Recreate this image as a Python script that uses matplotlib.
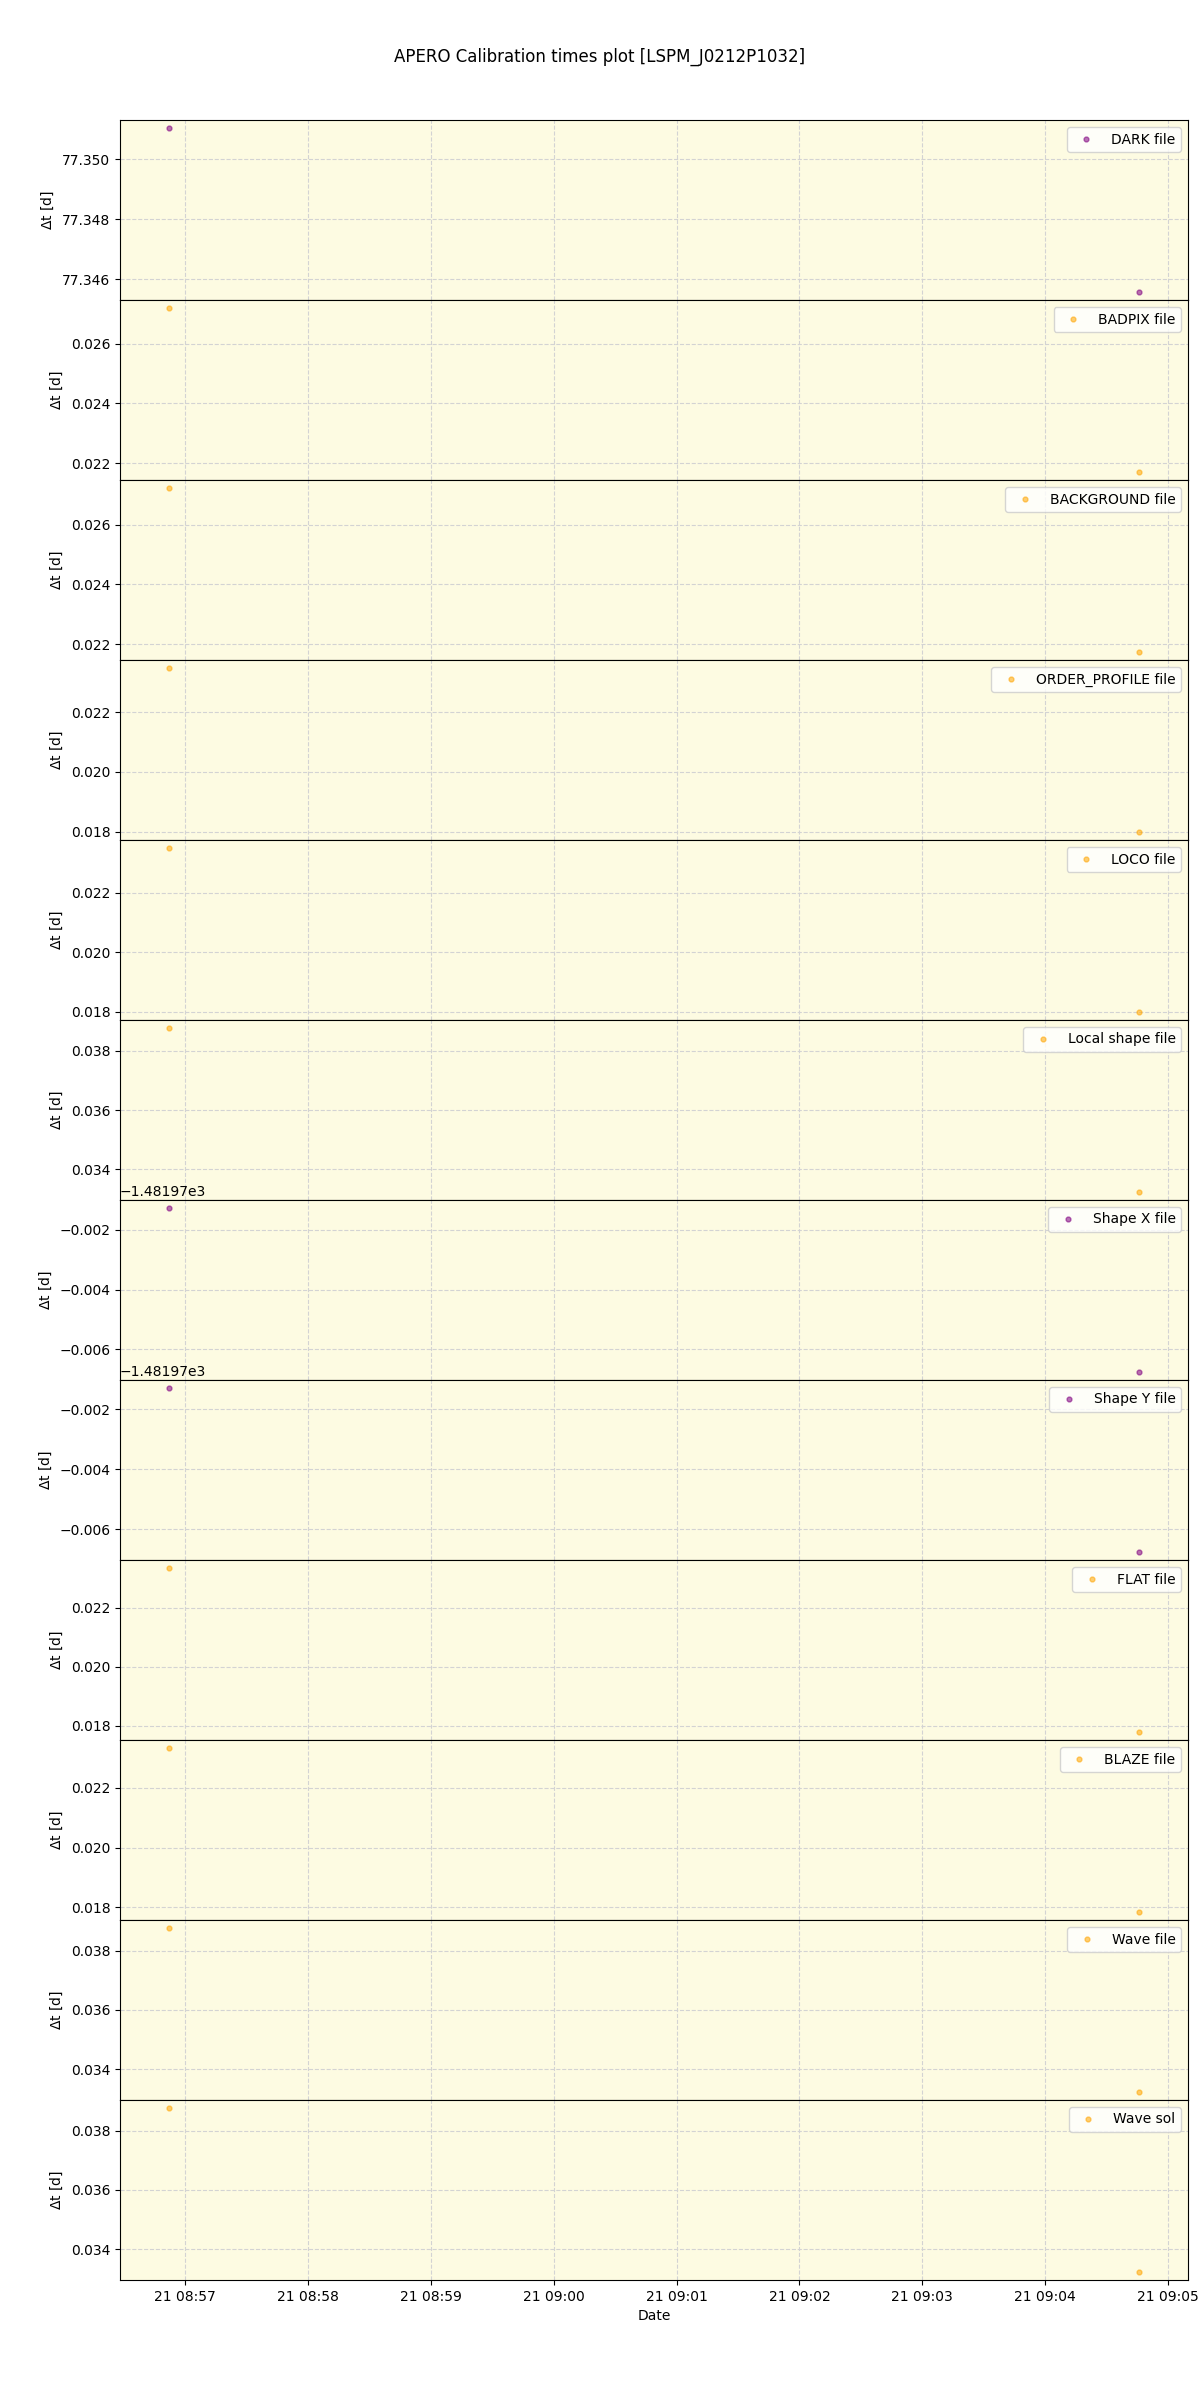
import pandas as pd
import matplotlib
matplotlib.use("Agg")
import matplotlib.pyplot as plt

# 관측 시각 (두 점)
obs_times = pd.to_datetime(["2020-09-21 08:56:52", "2020-09-21 09:04:46"])

# 보정 파일 종류와 각 Δt 값 [d]
labels = ["DARK file", "BADPIX file", "BACKGROUND file", "ORDER_PROFILE file",
          "LOCO file", "Local shape file", "Shape X file", "Shape Y file",
          "FLAT file", "BLAZE file", "Wave file", "Wave sol"]
dark = [77.35104, 77.34558]
badpix = [0.02718, 0.02172]
background = [0.02723, 0.02174]
order_profile = [0.02347, 0.01800]
loco = [0.02349, 0.01800]
local_shape = [0.03877, 0.03323]
shape_x = [-1481.97128, -1481.97675]
shape_y = [-1481.97129, -1481.97676]
flat = [0.02333, 0.01780]
blaze = [0.02333, 0.01785]
wave_file = [0.03877, 0.03323]
wave_sol = [0.03877, 0.03323]
values = [dark, badpix, background, order_profile, loco, local_shape,
          shape_x, shape_y, flat, blaze, wave_file, wave_sol]
colors = ["purple", "orange", "orange", "orange", "orange", "orange",
          "purple", "purple", "orange", "orange", "orange", "orange"]

fig, axes = plt.subplots(12, 1, sharex=True, figsize=(12, 24))
fig.subplots_adjust(left=0.1, right=0.99, top=0.95, bottom=0.05, hspace=0)

for ax, lab, vals, col in zip(axes, labels, values, colors):
    ax.set_facecolor("#fdfbe2")
    ax.plot(obs_times, vals, marker="o", ls="none", ms=3.5, color=col,
            alpha=0.55, label=lab)
    ax.set_ylabel(r"$\Delta$t [d]")
    ax.grid(True, ls="--", color="lightgray")
    ax.legend(loc="upper right")

axes[-1].set_xlabel("Date")
fig.suptitle("APERO Calibration times plot [LSPM_J0212P1032]")

plt.savefig("out.png", dpi=100)
